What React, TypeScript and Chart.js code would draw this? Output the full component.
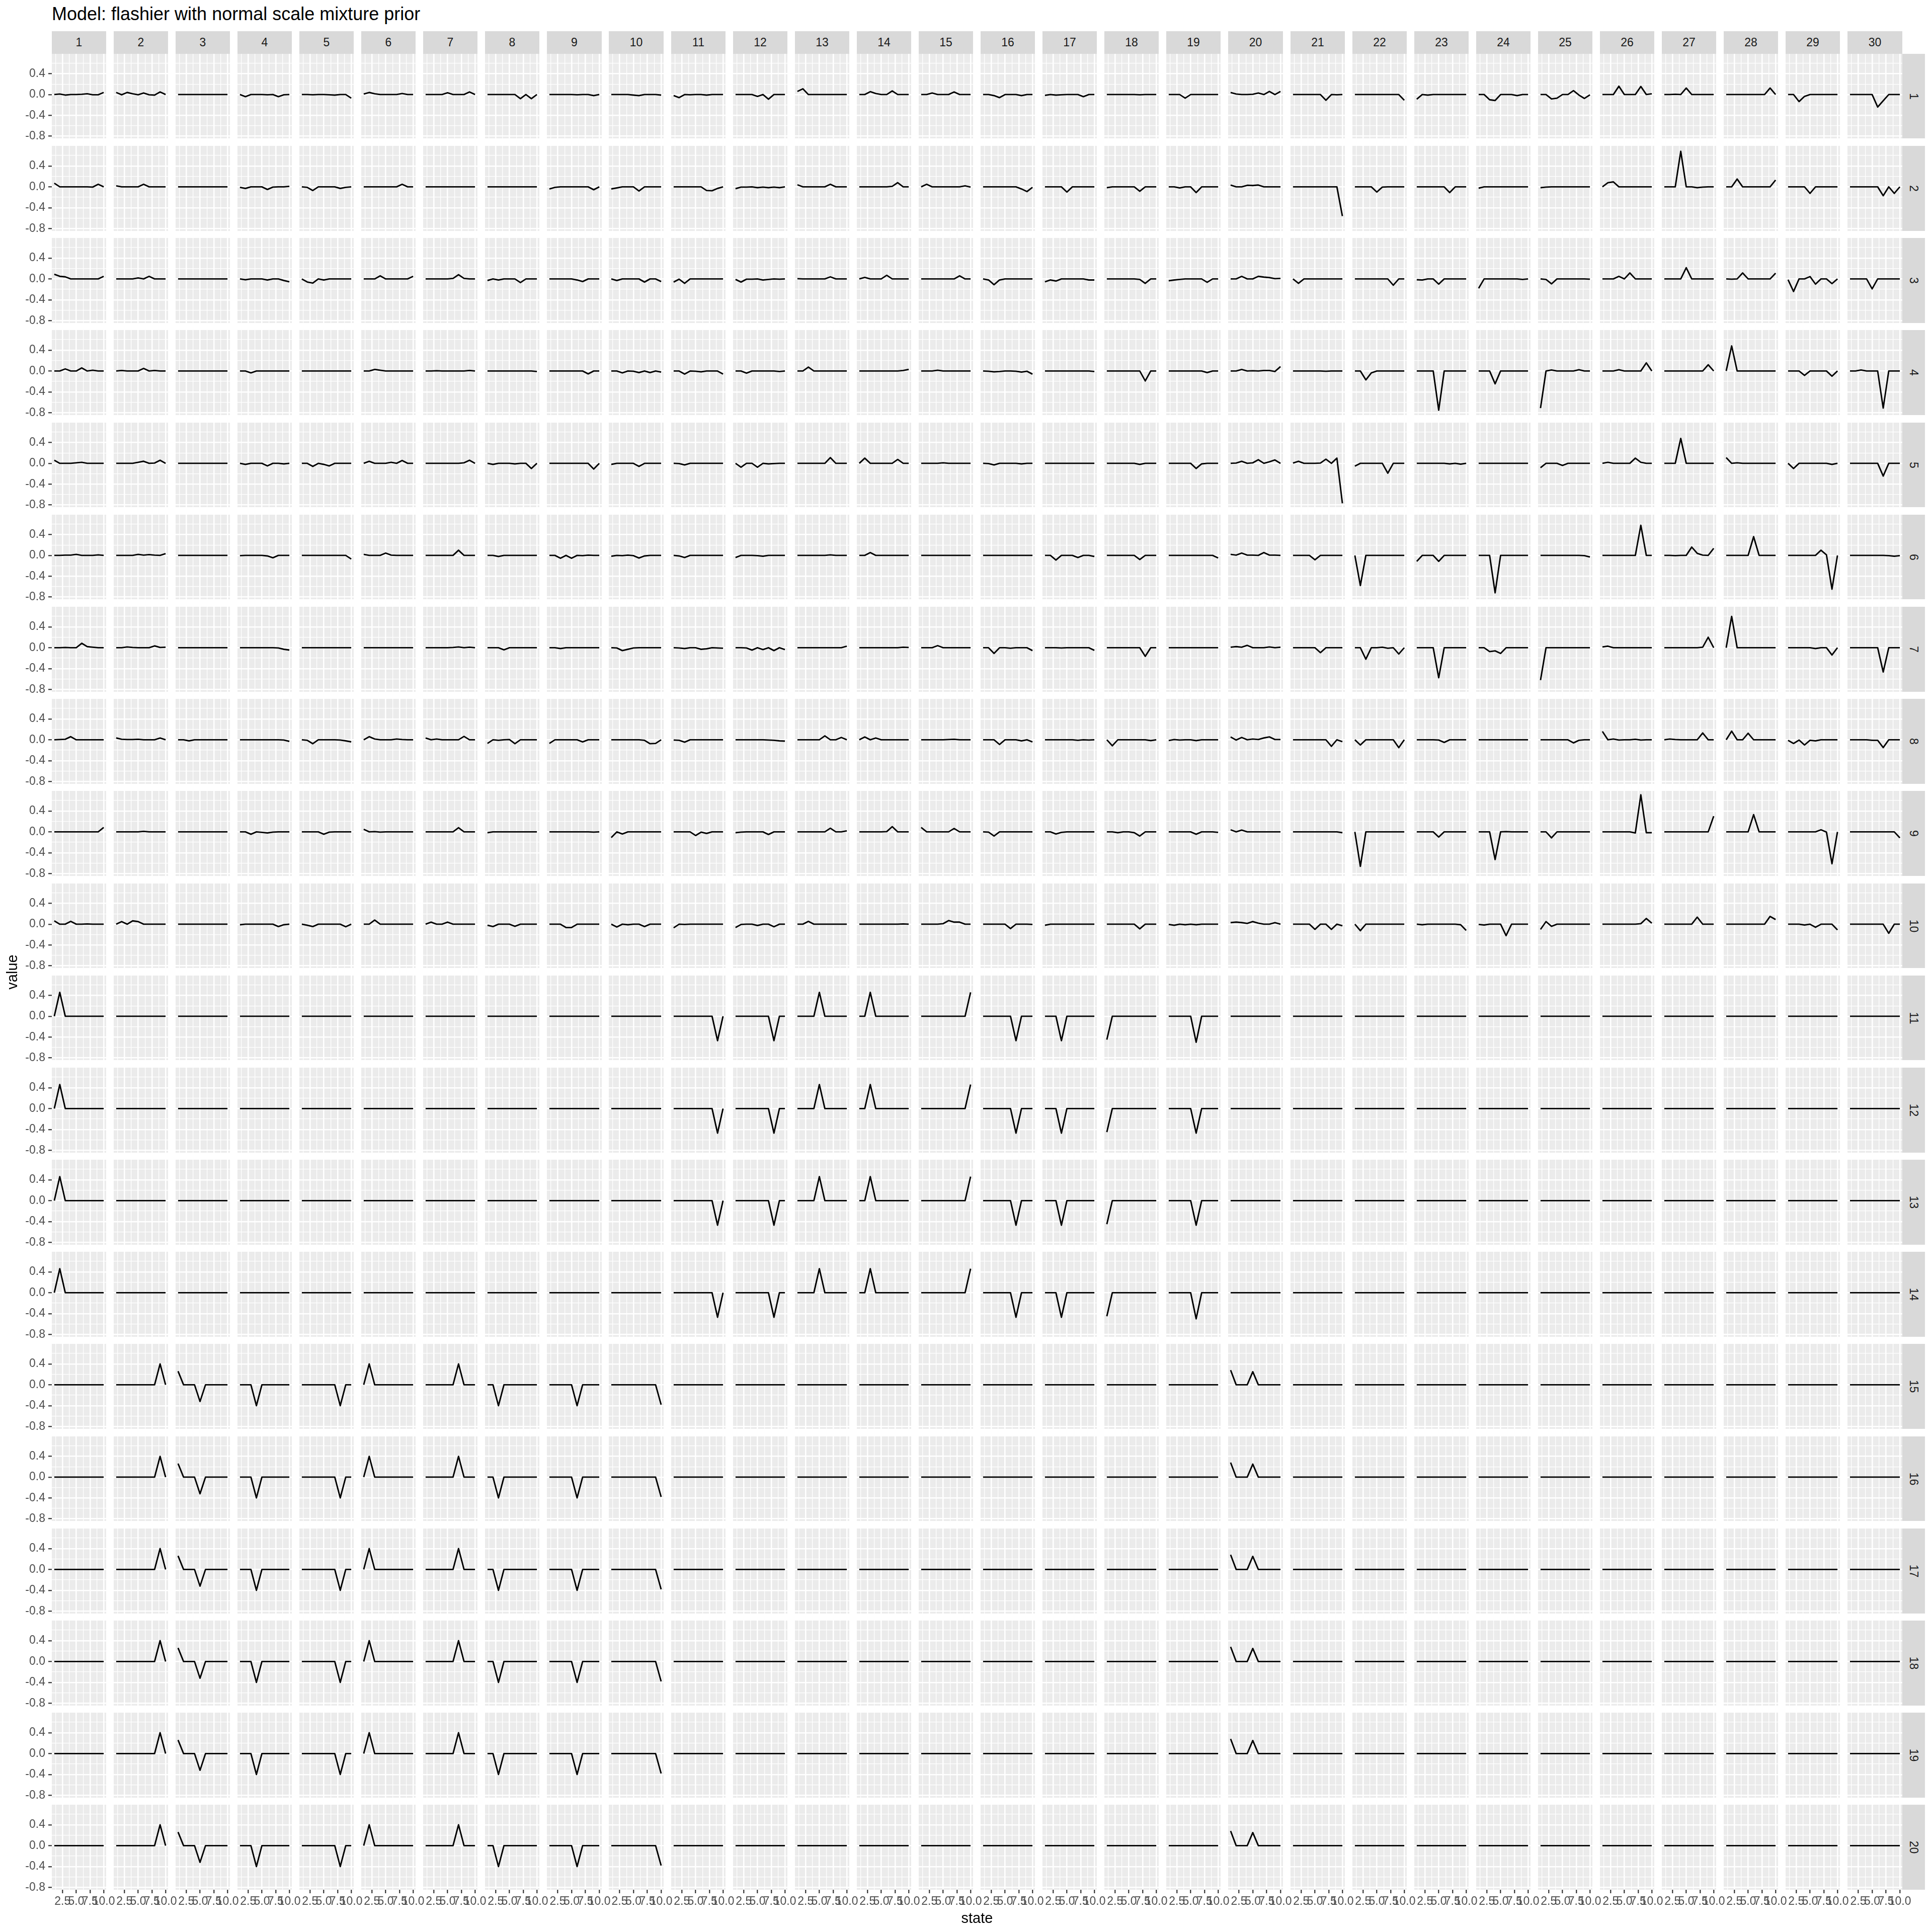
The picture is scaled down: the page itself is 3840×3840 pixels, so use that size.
import React, { useEffect, useRef } from 'react';
import { Chart, registerables } from 'chart.js';

Chart.register(...registerables);

// ---------------- data ----------------
const STATES = [1, 2, 3, 4, 5, 6, 7, 8, 9, 10];
const COL_LABELS = ['1','2','3','4','5','6','7','8','9','10','11','12','13','14','15','16','17','18','19','20','21','22','23','24','25','26','27','28','29','30'];
const ROW_LABELS = ['1','2','3','4','5','6','7','8','9','10','11','12','13','14','15','16','17','18','19','20'];
const X_MAJOR = [2.5, 5, 7.5, 10];
const X_MINOR = [1.25, 3.75, 6.25, 8.75];
const Y_MAJOR = [-0.8, -0.4, 0, 0.4];
const Y_MINOR = [-0.6, -0.2, 0.2, 0.6];
const TITLE = 'Model: flashier with normal scale mixture prior';
const X_TITLE = 'state';
const Y_TITLE = 'value';

const Z = [0, 0, 0, 0, 0, 0, 0, 0, 0, 0];

const ROW_01 = [
  [0,0.01,-0.01,0,0,0.005,0.015,-0.005,-0.005,0.04],
  [0.04,-0.005,0.04,0.015,-0.005,0.03,-0.005,-0.01,0.05,0],
  Z,
  [0,-0.04,0,0,0,-0.005,0,-0.04,-0.005,0],
  [0,0,-0.005,0,0,-0.005,-0.01,0,0,-0.07],
  [0.01,0.04,0.015,0,0,0,0,0.02,0,0],
  [0,0,0,0,0.035,0,0,0,0.05,0],
  [0,0,0,0,0,0,-0.08,0,-0.08,0],
  [0,0,0,0,0,-0.005,0,0,-0.02,0],
  [0,0,0,0,-0.01,-0.02,0,0,0,-0.01],
  [-0.02,-0.06,0,-0.005,0,0,-0.01,0,0,0],
  [0,0,0,0,-0.035,0,-0.09,0,0,0],
  [0.06,0.11,0,0,0,0,0,0,0,0],
  [0,0,0.055,0.02,0,0,0.07,0,0,0],
  [0,0,0.03,0,0,0,0.05,0,0,0],
  [0,0,-0.02,-0.06,0,0,0,-0.02,0,0],
  [-0.015,0,-0.01,-0.005,0,0,0,-0.04,0,0],
  [0,0,0,0,0,0,-0.005,0,0,0],
  [0,0,0,-0.07,0,0,0,0,0,0],
  [0.04,0.01,0,0,0.005,0.03,0,0.06,0,0.06],
  [0,0,0,0,0,0,-0.11,0,-0.005,0],
  [0,0,0,0,0,0,0,0,0,-0.11],
  [-0.09,0,-0.01,0,0,0,0,0,0,0],
  [0,0,-0.1,-0.115,0,0,0,-0.02,0,0],
  [0,0,-0.085,-0.07,0,0,0.075,-0.01,-0.075,-0.005],
  [0,0,0,0.16,0,0,0,0.155,0,0.015],
  [0,0,0.005,0,0.125,0,0,0,0,0],
  [0,0,0,0,0,0,0,0,0.125,0],
  [0,0,-0.135,-0.035,0,0,0,0,0,0],
  [0,0,0,0,0,-0.24,-0.12,0,0,0],
];

const ROW_02 = [
  [0.07,0,0,0,0,0,0,-0.005,0.05,0],
  [0.02,0,0,0,0,0.05,0,0,0,0],
  Z,
  [-0.01,-0.03,0,0,0,-0.05,-0.005,0,0,0.01],
  [0,-0.01,-0.07,0,0,0,0,-0.03,-0.01,0],
  [0,0,0,0,0,0,0,0.05,0,0],
  Z,
  Z,
  [-0.04,-0.01,0,0,0,0,0,0,-0.055,0],
  [-0.04,-0.02,0,0,0,-0.08,0,0,0,0],
  [0,0,0,0,0,0,-0.07,-0.075,-0.03,0],
  [-0.035,-0.005,-0.005,0,-0.015,-0.005,-0.015,-0.005,-0.015,0],
  [0.04,0,0,0,0,0,0.05,0,0,0],
  [0,0,0,0,0,0,0.01,0.08,0,0],
  [0,0.05,0,0,0,0,0,0,0.02,-0.005],
  [0,0,0,0,0,0,0,-0.04,-0.09,-0.01],
  [0,0,0,0,-0.1,0,0,0,0,0],
  [-0.015,0,0,0,0,0,-0.085,0,0,0],
  [0,0,-0.02,0,0,-0.11,0,0,0,0],
  [0.035,0,0,0.03,0.025,0.035,0,0,0,0],
  [0,0,0,0,0,0,0,0,0,-0.56],
  [0,0,0,0,-0.1,-0.005,0,0,0,0],
  [0,0,0,0,0,0,-0.11,0,0,0],
  [-0.025,0,0,0,0,0,0,0,0,0],
  [-0.015,-0.005,0,0,0,0,0,0,0,0],
  [0,0.08,0.095,0,0,0,0,0,0,0],
  [0,0,0,0.68,0,0,-0.015,-0.005,0,0],
  [0,0,0.15,0,0,0,0,0,0,0.13],
  [0,0,0,0,-0.125,0,0,0,0,0],
  [0,0,0,0,0,0,-0.17,0,-0.125,0],
];

const ROW_03 = [
  [0.09,0.05,0.04,0,0,0,0,0,0,0.05],
  [0,0,0,0,0.02,0,0.05,0,0,0],
  Z,
  [0,-0.015,0,0,0,-0.02,0,0,-0.03,-0.055],
  [0,-0.06,-0.08,0,-0.02,0,0,0,0,0],
  [0,0,0,0.06,0,0,0,0,0,0.05],
  [0,0,0,0,0,0.01,0.08,0.01,0,0],
  [-0.03,0,-0.02,0,0,0,-0.07,0,0,0],
  [0,0,0,0,0,-0.02,-0.05,0,0,0],
  [0,-0.03,0,0,0,0,-0.06,0,0,-0.05],
  [-0.06,-0.005,-0.085,0,0,0,0,0,0,0],
  [-0.01,-0.06,-0.005,-0.005,0,-0.02,-0.01,0,-0.005,0],
  [0.005,0,0,0,0,0,0.04,0,0,0],
  [0,0.03,0,0,0,0.07,0,0,0,0],
  [0,0,0,0,0,0,0,0.06,0,0],
  [0,-0.02,-0.11,-0.02,0,0,0,0,0,0],
  [-0.055,-0.02,-0.04,0,0,0,0,0,-0.02,-0.02],
  [0,0,0,0,0,0,-0.01,-0.085,0,0],
  [-0.035,-0.02,-0.01,0,0,0,0,-0.065,0,0],
  [0,0,0.05,0,0,0.05,0.035,0.025,0.005,0.01],
  [0,-0.085,0,0,0,0,0,0,0,0],
  [0,0,0,0,0,0,0,-0.12,0,0],
  [-0.015,-0.02,0,0,-0.1,0,0,0,0,0],
  [-0.18,0,0,0,0,0,0,0,-0.01,0],
  [0,-0.01,-0.095,0,0,0,0,0,0,-0.005],
  [0,0,0,0.05,0,0.115,0,0,0,0],
  [0,0,0,0,0.215,0,0,0,0,0],
  [0,-0.005,0,0.115,0,0,0,0,0,0.11],
  [-0.015,-0.24,0,0,0.045,-0.1,0,0,-0.09,0],
  [0,0,0,0,-0.19,0,0,0,0,0],
];

const ROW_04 = [
  [0,0,0.04,0,0,0.06,0,0.015,0,0],
  [0,0.01,0,0,0,0.05,0,0.01,0,0],
  Z,
  [0,0,-0.035,0,0,0,0,0,0,0],
  Z,
  [0,0,0.03,0.015,0,0,0,0,0,0],
  [0,0,0.005,0,0,0,0,0,0.01,0],
  [0,0,0,0,0,0,0,0,0,-0.01],
  [0,0,0,0,0,0,0,-0.055,0,0],
  [0,0,-0.035,0,-0.005,-0.03,0,-0.03,0,-0.02],
  [0,0,-0.06,0,-0.005,-0.015,0,0,0,-0.06],
  [0,0,-0.04,0,0,0,0,0,-0.01,0],
  [0,0,0.075,0,0,0,0,0,0,0],
  [0,0,0,0,0,0,0,0,0.01,0.03],
  [0,0,0,0.015,0,0,0,0,0,0],
  [0,-0.005,-0.015,-0.01,0,0,-0.005,-0.02,-0.005,-0.06],
  [0,0,0,0,0,0,0,0,0,-0.01],
  [0,0,0,0,0,0,0,-0.19,0,0],
  [0,0,0,0,0,0,0,-0.03,0,0],
  [0,0,0.03,0,0.005,0,0.01,0.01,-0.01,0.085],
  [0,0,0,0,0,0,-0.005,0,0,0],
  [0,0,-0.17,-0.035,0,0,0,0,0,0],
  [0,0,0,0,-0.75,0,0,0,0,0],
  [0,0,0,-0.245,0,0,0,0,0,0],
  [-0.71,0,0.02,0,0,0,0,0.025,0,0],
  [0,0,0,0.025,0,0,0,0,0.155,0],
  [0,0,0,0,0,0,0,0,0.12,0],
  [0,0.48,0,0,0,0,0,0,0,0],
  [0,0,0,-0.085,0,0,0,0,-0.1,0],
  [0,0,0.02,0,0,0,-0.71,0,0,0],
];

const ROW_05 = [
  [0.06,0,0,0,0.01,0.02,0,0,0,0],
  [0,0,0,0,0.02,0.04,0,0.005,0.06,0],
  Z,
  [0,-0.02,0,0,0,-0.05,0,0,-0.01,0],
  [0,0,-0.06,0,-0.02,-0.05,0,0,0,0],
  [0,0.04,0,0,0,0.02,0,0.055,0,0],
  [0,0,0,0,0,0,0,0.01,0.06,0],
  [0,-0.02,0,0,0,-0.01,0,0,-0.1,0],
  [0,0,0,0,0,0,0,0,-0.11,0],
  [-0.02,0,0,0,0,-0.06,0,0,0,0],
  [0,-0.005,-0.03,0,0,0,0,0,0,0],
  [0,-0.075,0,0,-0.075,0,-0.01,-0.005,0,0],
  [0,0,0,0,0,0,0.11,0,0,0],
  [0,0.1,0,0,0,0,0,0.075,0,0],
  [0,0,0,0,0.01,0,0,0,0,0],
  [0,-0.005,-0.03,0,0,0,0,-0.01,0,0],
  Z,
  [0,0,0,0,0,0,-0.02,0,0,0],
  [0,0,0,0,0,-0.1,-0.01,0,0,0],
  [0,0.005,0.04,0,0.01,0.07,0,0.03,0.065,0],
  [0.005,0.04,0,0,0,0.005,0.08,0,0.1,-0.77],
  [-0.055,0,0,0,0,0,-0.19,0,0,0],
  [0,0,0,0,0,0,-0.01,0,-0.015,0],
  Z,
  [-0.085,0,0,0,-0.04,0,0,0,0,0],
  [0,0.02,0,0,0,0,0.1,0.02,0,0],
  [0,0,0,0.48,0,0,0,0,0,0],
  [0.11,0,0.01,0,0,0,0,0,0,0],
  [0,-0.1,0,0,0,0,0,0,-0.02,0],
  [0,0,0,0,0,0,-0.245,0,0,0],
];

const ROW_06 = [
  [0,0,0.005,0.005,0.02,0,0,0,0.01,0],
  [0,0,0,0,0.02,0.005,0.015,0.005,0,0.035],
  Z,
  [-0.005,0,0,0,0,-0.01,-0.045,0,0,0],
  [0,0,0,0,0,0,0,0,0,-0.07],
  [0.02,0,0,0,0.045,0.005,0,0,0,0],
  [0,0,0,0,0,0,0.1,0,0,0],
  [0,0,-0.02,0,0,0,0,0,0,0],
  [0,0,-0.055,0,-0.055,0,-0.005,0.005,0,0],
  [-0.015,0,-0.005,0.005,-0.005,-0.05,-0.01,0,0,0],
  [0,-0.01,-0.04,0,0,0,0,0,0,0],
  [-0.04,0,0,0,-0.005,-0.015,0,0,0,0],
  [0,0,0,0,0,0,0.01,0,0,0],
  [0,0,0.055,0,0,0,0,0,0,0],
  Z,
  Z,
  [0,0,-0.09,0,0,0,-0.04,0,0,-0.02],
  [0,0,0,0,0,0,-0.08,0,0,0],
  [0,0,0,0,0,0,0,0,0,-0.05],
  [0.02,0.005,0.045,0.005,0.005,0,0.055,0.005,0.005,0],
  [0,0,0,0,-0.085,0,0,0,0,0],
  [0,-0.58,0,0,0,0,0,0,0,0],
  [-0.115,0,0,0,-0.115,0,0,0,0,0],
  [0,0,0,-0.72,0,0,0,0,0,0],
  [0,0,0,0,0,0,0,0,-0.005,-0.03],
  [0,0,0,0,0,0,0,0.58,0,0],
  [0,0,-0.005,0,0,0.16,0.04,0.005,0,0.135],
  [0,0,0,0,0,0.36,0,0,0,0],
  [0,0,0,0,0,0,0.1,0.01,-0.65,0],
  [0,0,0,0,0,0,0,-0.005,-0.015,-0.005],
];

const ROW_07 = [
  [0,0,0.005,0,0,0.085,0.02,0.01,0,0],
  [0,0,0.015,0.005,0,0,0,0.035,0.005,0.01],
  Z,
  [0,0,0,0,0,0,0,-0.005,-0.03,-0.045],
  Z,
  Z,
  [0,0,0,0,0,0.005,0.015,0,0.01,0],
  [0,0,0,-0.04,0,0,0,0,0,0],
  [0,0,-0.015,0,0,0,0,0,0,0],
  [0,-0.005,-0.055,-0.03,-0.005,0,0,0,0,0],
  [0,-0.005,-0.015,0,0,-0.03,-0.02,0,-0.005,-0.01],
  [0,0,-0.005,-0.045,0,-0.035,0,-0.055,0,-0.035],
  [0,0,0,0,0,0,0,0,0,0.03],
  [0,0,0,0,0,0,0,0,0.01,0.005],
  [0,0,0,0.04,0,0,0,0,0,0],
  [0,0,-0.11,0,0,-0.01,0,0,0,-0.055],
  [0,0,0,-0.005,0,0,0,0,0,-0.05],
  [0,0,0,0,0,0,0,-0.165,0,0],
  Z,
  [0.01,0.02,0.01,0.045,0,0,0,0.015,0,0.01],
  [0,0,0,0,0,-0.095,0,0,0,0],
  [0,0,-0.22,0,0,0.01,-0.01,0,-0.12,0],
  [0,0,0,0,-0.575,0,0,0,0,0],
  [0,0,-0.075,-0.06,-0.11,0,0,0,0,0],
  [-0.62,0,0,0,0,0,0,0,0,0],
  [0.015,0.03,0,0,0,0,0,0,0,0],
  [0,0,0,0,0,0,0,0.01,0.2,0],
  [0,0.6,0,0,0,0,0,0,0,0],
  [0,0,0,0,0,-0.015,0,0,-0.14,0],
  [0,0,0,0,0,0,-0.465,0,0,0],
];

const ROW_08 = [
  [0,0.005,0.01,0.06,0,0,0,0,0,0],
  [0.035,0.01,0.005,0.005,0.01,0,0,0,0.035,0],
  [0,0,-0.02,0,0,0,0,0,0,0],
  [0,0,0,0,0,0,0,0,-0.005,-0.03],
  [0,-0.01,-0.075,0,0,0,0,-0.005,-0.02,-0.04],
  [0,0.06,0.015,0,0,0,0.015,0.005,0,0],
  [0.035,0,0.015,0,0,0,0,0.065,0,0],
  [-0.07,0,-0.01,0,0.005,-0.075,0,0,0,0],
  [-0.07,0,0,0,0,0,-0.04,0,0,0],
  [0,0,0,0,0,0,-0.01,-0.075,-0.07,0],
  [-0.005,-0.01,-0.045,0,0,0,0,0,0,0],
  [0,0,0,0,0,0,-0.005,-0.01,-0.02,-0.025],
  [0,0,0,0,0,0.075,0,0,0.045,0],
  [0,0.055,0,0.035,0,0,0,0,0,0],
  [0,0,0,0,0,0.005,0.01,0,0,0],
  [0,0,0,-0.09,0,0,0,-0.02,0,-0.04],
  [0,0,0,0,0,0,-0.01,0,-0.005,0],
  [0,-0.115,0,0,0,0,0,0,-0.015,0],
  [-0.015,0.005,-0.005,0,0,-0.015,0,0,0,0],
  [0.055,-0.005,0.045,0,0.015,0.005,0.035,0.055,0.005,0.005],
  [0,0,0,0,0,0,0,-0.125,0,-0.035],
  [0,-0.1,0,0,0,0,0,0,-0.15,0],
  [0,0,0,0,-0.005,-0.05,0,0,0,0],
  Z,
  [0,0,0,0,0,0,-0.06,-0.01,0,0],
  [0.16,0,0.015,-0.005,0,0,0.01,-0.005,0,0],
  [0,0.015,0.005,0,0,0,0,0.13,0,0],
  [0,0.165,0,0,0.125,0,0,0,0,0],
  [-0.01,-0.07,-0.005,-0.1,-0.01,-0.02,0,0,0,0],
  [0,0,0,0,-0.01,-0.01,-0.15,0,0,0],
];

const ROW_09 = [
  [0,0,0,0,0,0,0,0,0,0.085],
  [0,0,0,0,0,0.01,0,0,0,0],
  Z,
  [0,0,-0.045,0,-0.01,-0.02,-0.005,0,0,0],
  [0,0,0,0,-0.045,-0.005,0,0,0,0],
  [0.05,0,0.005,-0.005,0,0,0,0,0,0],
  [0,0,0,0,0,0,0.08,0,0,0],
  [-0.015,0,0,0,0,0,0,0,0,0],
  [0,0,0,0,0,0,0,0,-0.005,0],
  [-0.11,0,-0.04,0,0,0,0,0,0,0],
  [0,0,0,0,-0.07,-0.005,-0.03,0,0,0],
  [-0.015,-0.005,0,0,0,0,-0.05,0,0,0],
  [0,0,0,0,0,0,0.07,0,0,0.02],
  [0,0,0,0,0,0.005,0.1,0,0,0],
  [0.085,0,0,0,0,0,0.065,0,0,0],
  [0,-0.005,-0.08,0,0,0,0,0,0,0],
  [0,0,-0.04,-0.01,0,0,0,0,0,0],
  [0,0,-0.015,0,0,-0.015,-0.08,0,0,0],
  [0,0,0,0,0,-0.045,0,0,0,-0.01],
  [0.04,0,0.035,0,0,0,0,0,0,0],
  [0,0,0,0,0,0,0,0,0,-0.015],
  [0,-0.66,0,0,0,0,0,0,0,0],
  [0,0,0,0,-0.1,0,0,0,0,0],
  [0,0,0,-0.53,0,0.005,0,0,0,0],
  [0,0,-0.115,0,0,0,0,0,0,0],
  [0,0,0,0,0,0,-0.02,0.71,-0.015,-0.015],
  [0,0,0,0,0,0,0,0,0,0.3],
  [0,0,0,0,0,0.33,0,0,0,0],
  [0,0,0,0,0,0,0.04,-0.005,-0.61,0],
  [0,0,0,0,0,0,0,0,0,-0.115],
];

const ROW_10 = [
  [0.065,0,0,0.055,0,0,0.005,0,0,0],
  [0,0.05,0,0.065,0.05,0,0,0,0,0],
  Z,
  [-0.01,0,0,0,0,0,0,-0.045,-0.01,0],
  [0,-0.02,-0.045,0,0,0,0,0,-0.05,0],
  [0,0,0.08,0,0,0,0,0,0,0],
  [0,0.04,0,0,0.04,0,0,0,0,0],
  [-0.02,-0.045,0,0,0,-0.04,0,0,0,0],
  [0,0,0,-0.065,-0.065,0,0,0,0,0],
  [0,-0.055,0,-0.01,0,0,-0.045,0,0,0],
  [-0.07,0,-0.005,0,0,0,0,0,0,0],
  [-0.065,-0.005,0,0,-0.025,0,0,-0.05,0,0],
  [0,0,0.055,0,0,0,0,0,0,0],
  [0,0,0,0,0,0,0,0,0.005,0],
  [0,0,0,0,0.01,0.07,0.04,0.04,0,0],
  [0,0,0,0,0,-0.085,0,0,0,-0.005],
  [-0.02,0,0,0,0,0,0,0,0,0],
  [0,0,0,0,0,0,-0.09,0,0,0],
  [-0.005,-0.02,0,-0.01,0,-0.01,0,0,0,0],
  [0.03,0.04,0.03,0.015,0.05,0.02,0,0,0.03,0],
  [0,0,0,0,-0.1,0,0,-0.1,0,-0.03],
  [0,-0.125,0,0,0,0,0,0,0,0],
  [0,-0.01,0,0,0,0,0,0,-0.01,-0.12],
  [-0.005,-0.015,0,0,0,-0.22,0,0,0,0],
  [-0.1,0.05,-0.04,0,0,0,0,0,0,0],
  [0,0,0,0,0,0,0,0.01,0.11,0.02],
  [0,0,0,0,0,0,0.135,0,0,0],
  [0,0,0,0,0,0,0,0,0.15,0.09],
  [0,0,0,-0.015,0,-0.06,0,0,0,-0.11],
  [0,0,0,0,0,0,0,-0.175,0,0],
];

const ROW_11 = [
  [0,0.46,0,0,0,0,0,0,0,0], Z, Z, Z, Z, Z, Z, Z, Z, Z,
  [0,0,0,0,0,0,0,0,-0.47,0],
  [0,0,0,0,0,0,0,-0.47,0,0],
  [0,0,0,0,0.46,0,0,0,0,0],
  [0,0,0.46,0,0,0,0,0,0,0],
  [0,0,0,0,0,0,0,0,0,0.46],
  [0,0,0,0,0,0,-0.47,0,0,0],
  [0,0,0,-0.47,0,0,0,0,0,0],
  [-0.45,0,0,0,0,0,0,0,0,0],
  [0,0,0,0,0,-0.5,0,0,0,0],
  Z, Z, Z, Z, Z, Z, Z, Z, Z, Z, Z,
];
const ROW_12 = [
  [0,0.46,0,0,0,0,0,0,0,0], Z, Z, Z, Z, Z, Z, Z, Z, Z,
  [0,0,0,0,0,0,0,0,-0.47,0],
  [0,0,0,0,0,0,0,-0.47,0,0],
  [0,0,0,0,0.46,0,0,0,0,0],
  [0,0,0.46,0,0,0,0,0,0,0],
  [0,0,0,0,0,0,0,0,0,0.46],
  [0,0,0,0,0,0,-0.47,0,0,0],
  [0,0,0,-0.47,0,0,0,0,0,0],
  [-0.45,0,0,0,0,0,0,0,0,0],
  [0,0,0,0,0,-0.47,0,0,0,0],
  Z, Z, Z, Z, Z, Z, Z, Z, Z, Z, Z,
];
const ROW_13 = [
  [0,0.46,0,0,0,0,0,0,0,0], Z, Z, Z, Z, Z, Z, Z, Z, Z,
  [0,0,0,0,0,0,0,0,-0.47,0],
  [0,0,0,0,0,0,0,-0.47,0,0],
  [0,0,0,0,0.46,0,0,0,0,0],
  [0,0,0.46,0,0,0,0,0,0,0],
  [0,0,0,0,0,0,0,0,0,0.46],
  [0,0,0,0,0,0,-0.47,0,0,0],
  [0,0,0,-0.47,0,0,0,0,0,0],
  [-0.45,0,0,0,0,0,0,0,0,0],
  [0,0,0,0,0,-0.47,0,0,0,0],
  Z, Z, Z, Z, Z, Z, Z, Z, Z, Z, Z,
];
const ROW_14 = [
  [0,0.46,0,0,0,0,0,0,0,0], Z, Z, Z, Z, Z, Z, Z, Z, Z,
  [0,0,0,0,0,0,0,0,-0.47,0],
  [0,0,0,0,0,0,0,-0.47,0,0],
  [0,0,0,0,0.46,0,0,0,0,0],
  [0,0,0.46,0,0,0,0,0,0,0],
  [0,0,0,0,0,0,0,0,0,0.46],
  [0,0,0,0,0,0,-0.47,0,0,0],
  [0,0,0,-0.47,0,0,0,0,0,0],
  [-0.45,0,0,0,0,0,0,0,0,0],
  [0,0,0,0,0,-0.5,0,0,0,0],
  Z, Z, Z, Z, Z, Z, Z, Z, Z, Z, Z,
];

const ROW_15 = [
  Z,
  [0,0,0,0,0,0,0,0,0.4,0],
  [0.26,0,0,0,-0.32,0,0,0,0,0],
  [0,0,0,-0.4,0,0,0,0,0,0],
  [0,0,0,0,0,0,0,-0.4,0,0],
  [0,0.4,0,0,0,0,0,0,0,0],
  [0,0,0,0,0,0,0.4,0,0,0],
  [0,0,-0.4,0,0,0,0,0,0,0],
  [0,0,0,0,0,-0.4,0,0,0,0],
  [0,0,0,0,0,0,0,0,0,-0.38],
  Z, Z, Z, Z, Z, Z, Z, Z, Z,
  [0.28,0,0,0,0.25,0,0,0,0,0],
  Z, Z, Z, Z, Z, Z, Z, Z, Z, Z,
];
const ROW_16 = [
  Z,
  [0,0,0,0,0,0,0,0,0.4,0],
  [0.26,0,0,0,-0.32,0,0,0,0,0],
  [0,0,0,-0.4,0,0,0,0,0,0],
  [0,0,0,0,0,0,0,-0.4,0,0],
  [0,0.4,0,0,0,0,0,0,0,0],
  [0,0,0,0,0,0,0.4,0,0,0],
  [0,0,-0.4,0,0,0,0,0,0,0],
  [0,0,0,0,0,-0.4,0,0,0,0],
  [0,0,0,0,0,0,0,0,0,-0.38],
  Z, Z, Z, Z, Z, Z, Z, Z, Z,
  [0.28,0,0,0,0.25,0,0,0,0,0],
  Z, Z, Z, Z, Z, Z, Z, Z, Z, Z,
];
const ROW_17 = [
  Z,
  [0,0,0,0,0,0,0,0,0.4,0],
  [0.26,0,0,0,-0.32,0,0,0,0,0],
  [0,0,0,-0.4,0,0,0,0,0,0],
  [0,0,0,0,0,0,0,-0.4,0,0],
  [0,0.4,0,0,0,0,0,0,0,0],
  [0,0,0,0,0,0,0.4,0,0,0],
  [0,0,-0.4,0,0,0,0,0,0,0],
  [0,0,0,0,0,-0.4,0,0,0,0],
  [0,0,0,0,0,0,0,0,0,-0.38],
  Z, Z, Z, Z, Z, Z, Z, Z, Z,
  [0.28,0,0,0,0.25,0,0,0,0,0],
  Z, Z, Z, Z, Z, Z, Z, Z, Z, Z,
];
const ROW_18 = [
  Z,
  [0,0,0,0,0,0,0,0,0.4,0],
  [0.26,0,0,0,-0.32,0,0,0,0,0],
  [0,0,0,-0.4,0,0,0,0,0,0],
  [0,0,0,0,0,0,0,-0.4,0,0],
  [0,0.4,0,0,0,0,0,0,0,0],
  [0,0,0,0,0,0,0.4,0,0,0],
  [0,0,-0.4,0,0,0,0,0,0,0],
  [0,0,0,0,0,-0.4,0,0,0,0],
  [0,0,0,0,0,0,0,0,0,-0.38],
  Z, Z, Z, Z, Z, Z, Z, Z, Z,
  [0.28,0,0,0,0.25,0,0,0,0,0],
  Z, Z, Z, Z, Z, Z, Z, Z, Z, Z,
];
const ROW_19 = [
  Z,
  [0,0,0,0,0,0,0,0,0.4,0],
  [0.26,0,0,0,-0.32,0,0,0,0,0],
  [0,0,0,-0.4,0,0,0,0,0,0],
  [0,0,0,0,0,0,0,-0.4,0,0],
  [0,0.4,0,0,0,0,0,0,0,0],
  [0,0,0,0,0,0,0.4,0,0,0],
  [0,0,-0.4,0,0,0,0,0,0,0],
  [0,0,0,0,0,-0.4,0,0,0,0],
  [0,0,0,0,0,0,0,0,0,-0.38],
  Z, Z, Z, Z, Z, Z, Z, Z, Z,
  [0.28,0,0,0,0.25,0,0,0,0,0],
  Z, Z, Z, Z, Z, Z, Z, Z, Z, Z,
];
const ROW_20 = [
  Z,
  [0,0,0,0,0,0,0,0,0.4,0],
  [0.26,0,0,0,-0.32,0,0,0,0,0],
  [0,0,0,-0.4,0,0,0,0,0,0],
  [0,0,0,0,0,0,0,-0.4,0,0],
  [0,0.4,0,0,0,0,0,0,0,0],
  [0,0,0,0,0,0,0.4,0,0,0],
  [0,0,-0.4,0,0,0,0,0,0,0],
  [0,0,0,0,0,-0.4,0,0,0,0],
  [0,0,0,0,0,0,0,0,0,-0.38],
  Z, Z, Z, Z, Z, Z, Z, Z, Z,
  [0.28,0,0,0,0.25,0,0,0,0,0],
  Z, Z, Z, Z, Z, Z, Z, Z, Z, Z,
];

const ROWS = [ROW_01, ROW_02, ROW_03, ROW_04, ROW_05, ROW_06, ROW_07, ROW_08, ROW_09, ROW_10,
  ROW_11, ROW_12, ROW_13, ROW_14, ROW_15, ROW_16, ROW_17, ROW_18, ROW_19, ROW_20];

// ---------------- scales (ggplot-like 5% expansion) ----------------
const ALL_VALUES = ROWS.flat(2);
const D_MIN = Math.min(...ALL_VALUES);
const D_MAX = Math.max(...ALL_VALUES);
const Y_MIN = D_MIN - 0.05 * (D_MAX - D_MIN);
const Y_MAX = D_MAX + 0.05 * (D_MAX - D_MIN);
const S_MIN = Math.min(...STATES);
const S_MAX = Math.max(...STATES);
const X_MIN = S_MIN - 0.05 * (S_MAX - S_MIN);
const X_MAX = S_MAX + 0.05 * (S_MAX - S_MIN);
const X_GRID = [...X_MINOR, ...X_MAJOR].sort((a, b) => a - b);
const Y_GRID = [...Y_MINOR, ...Y_MAJOR].sort((a, b) => a - b);

// ---------------- layout & style ----------------
const FONT = '"Liberation Sans", Arial, Helvetica, sans-serif';
const TICK_SIZE = 23;
const STRIP_SIZE = 23;
const TITLE_SIZE = 36;
const AXIS_TITLE_SIZE = 29;
const X0 = 102.5;
const PITCH_X = 123.1;
const PW = 108.2;
const Y0 = 106.7;
const PITCH_Y = 183.2;
const PH = 168.7;
const STRIP = 44.7;
const NROW = ROWS.length;
const NCOL = COL_LABELS.length;

const isIn = (arr: number[], v: number) => arr.some((m) => Math.abs(m - v) < 1e-6);

function geom(r: number, c: number) {
  const pl = Math.round(X0 + c * PITCH_X);
  const pr = Math.round(X0 + c * PITCH_X + PW);
  const pt = Math.round(Y0 + r * PITCH_Y);
  const pb = Math.round(Y0 + r * PITCH_Y + PH);
  return { pl, pr, pt, pb };
}

const panelBg = {
  id: 'panelBg',
  beforeDraw(chart: any) {
    const { ctx, chartArea: a } = chart;
    ctx.save();
    ctx.fillStyle = '#EBEBEB';
    ctx.fillRect(a.left, a.top, a.right - a.left, a.bottom - a.top);
    ctx.restore();
  },
};

function Panel({ r, c, vals }: { r: number; c: number; vals: number[] }) {
  const ref = useRef<HTMLCanvasElement | null>(null);
  const { pl, pr, pt, pb } = geom(r, c);
  const firstCol = c === 0;
  const lastRow = r === NROW - 1;
  const yAxisW = firstCol ? 70 : 0;
  const xAxisH = lastRow ? 46 : 0;
  const padL = lastRow ? 28 : 0;
  const padR = lastRow ? 28 : 0;
  const padT = firstCol ? 14 : 0;
  const padB = firstCol && !lastRow ? 14 : 0;
  const left = pl - yAxisW - padL;
  const top = pt - padT;
  const w = pr - pl + yAxisW + padL + padR;
  const h = pb - pt + xAxisH + padT + padB;

  useEffect(() => {
    const canvas = ref.current;
    if (!canvas) return;
    const chart = new Chart(canvas, {
      type: 'line',
      data: {
        datasets: [
          {
            data: STATES.map((s, i) => ({ x: s, y: vals[i] })),
            borderColor: '#000000',
            borderWidth: 2.9,
            pointRadius: 0,
            tension: 0,
            fill: false,
            borderJoinStyle: 'round',
            borderCapStyle: 'butt',
          },
        ],
      },
      options: {
        animation: false,
        responsive: false,
        maintainAspectRatio: false,
        events: [],
        layout: { padding: { left: padL, right: padR, top: padT, bottom: padB }, autoPadding: false },
        plugins: { legend: { display: false }, tooltip: { enabled: false }, title: { display: false } },
        scales: {
          x: {
            type: 'linear',
            min: X_MIN,
            max: X_MAX,
            afterBuildTicks: (s: any) => {
              s.ticks = X_GRID.map((v) => ({ value: v }));
            },
            afterFit: (s: any) => {
              s.height = xAxisH;
              s.paddingLeft = 0;
              s.paddingRight = 0;
            },
            border: { display: false },
            grid: {
              color: '#FFFFFF',
              lineWidth: (ctx: any) => (ctx.tick && isIn(X_MAJOR, ctx.tick.value) ? 2.6 : 1.3),
              drawTicks: lastRow,
              tickLength: 7,
              tickWidth: 2.2,
              tickColor: (ctx: any) => (ctx.tick && isIn(X_MAJOR, ctx.tick.value) ? '#333333' : 'rgba(0,0,0,0)'),
            },
            ticks: {
              display: lastRow,
              autoSkip: false,
              maxRotation: 0,
              minRotation: 0,
              padding: 3,
              color: '#4D4D4D',
              font: { family: FONT, size: TICK_SIZE },
              callback: (v: any) => (isIn(X_MAJOR, Number(v)) ? Number(v).toFixed(1) : ''),
            },
          },
          y: {
            type: 'linear',
            min: Y_MIN,
            max: Y_MAX,
            afterBuildTicks: (s: any) => {
              s.ticks = Y_GRID.map((v) => ({ value: v }));
            },
            afterFit: (s: any) => {
              s.width = yAxisW;
              s.paddingTop = 0;
              s.paddingBottom = 0;
            },
            border: { display: false },
            grid: {
              color: '#FFFFFF',
              lineWidth: (ctx: any) => (ctx.tick && isIn(Y_MAJOR, ctx.tick.value) ? 2.6 : 1.3),
              drawTicks: firstCol,
              tickLength: 7,
              tickWidth: 2.2,
              tickColor: (ctx: any) => (ctx.tick && isIn(Y_MAJOR, ctx.tick.value) ? '#333333' : 'rgba(0,0,0,0)'),
            },
            ticks: {
              display: firstCol,
              autoSkip: false,
              padding: 6,
              color: '#4D4D4D',
              font: { family: FONT, size: TICK_SIZE },
              callback: (v: any) => (isIn(Y_MAJOR, Number(v)) ? (Math.abs(Number(v)) < 1e-9 ? '0.0' : Number(v).toFixed(1)) : ''),
            },
          },
        },
      } as any,
      plugins: [panelBg],
    });
    return () => chart.destroy();
  }, []);

  return (
    <canvas
      ref={ref}
      width={w}
      height={h}
      style={{ position: 'absolute', left, top, width: w, height: h, display: 'block' }}
    />
  );
}

export default function App() {
  useEffect(() => {
    document.body.style.margin = '0';
  }, []);
  const first = geom(0, 0);
  const lastCol = geom(0, NCOL - 1);
  const lastRow = geom(NROW - 1, 0);
  const midX = (first.pl + lastCol.pr) / 2;
  const midY = (first.pt + lastRow.pb) / 2;
  const stripTop = Math.round(Y0 - STRIP);

  return (
    <div
      style={{
        position: 'absolute',
        left: 0,
        top: 0,
        width: 3840,
        height: 3840,
        background: '#FFFFFF',
        overflow: 'hidden',
        fontFamily: FONT,
      }}
    >
      <div
        style={{
          position: 'absolute',
          left: first.pl,
          top: 10,
          fontSize: TITLE_SIZE,
          lineHeight: TITLE_SIZE + 'px',
          color: '#000000',
          whiteSpace: 'nowrap',
        }}
      >
        {TITLE}
      </div>

      {COL_LABELS.map((lab, c) => {
        const g = geom(0, c);
        return (
          <div
            key={'cs' + c}
            style={{
              position: 'absolute',
              left: g.pl,
              top: stripTop,
              width: g.pr - g.pl,
              height: g.pt - stripTop,
              background: '#D9D9D9',
              color: '#1A1A1A',
              fontSize: STRIP_SIZE,
              display: 'flex',
              alignItems: 'center',
              justifyContent: 'center',
            }}
          >
            {lab}
          </div>
        );
      })}

      {ROW_LABELS.map((lab, r) => {
        const g = geom(r, NCOL - 1);
        return (
          <div
            key={'rs' + r}
            style={{
              position: 'absolute',
              left: g.pr,
              top: g.pt,
              width: Math.round(STRIP),
              height: g.pb - g.pt,
              background: '#D9D9D9',
              color: '#1A1A1A',
              fontSize: STRIP_SIZE,
              display: 'flex',
              alignItems: 'center',
              justifyContent: 'center',
            }}
          >
            <div style={{ transform: 'rotate(90deg)', whiteSpace: 'nowrap' }}>{lab}</div>
          </div>
        );
      })}

      {ROWS.map((row, r) => row.map((vals, c) => <Panel key={r + '-' + c} r={r} c={c} vals={vals} />))}

      <div
        style={{
          position: 'absolute',
          left: midX - 100,
          top: 3796,
          width: 200,
          textAlign: 'center',
          fontSize: AXIS_TITLE_SIZE,
          lineHeight: '32px',
          color: '#000000',
        }}
      >
        {X_TITLE}
      </div>
      <div
        style={{
          position: 'absolute',
          left: 24 - 100,
          top: midY - 16,
          width: 200,
          height: 32,
          textAlign: 'center',
          fontSize: AXIS_TITLE_SIZE,
          lineHeight: '32px',
          color: '#000000',
          transform: 'rotate(-90deg)',
        }}
      >
        {Y_TITLE}
      </div>
    </div>
  );
}
